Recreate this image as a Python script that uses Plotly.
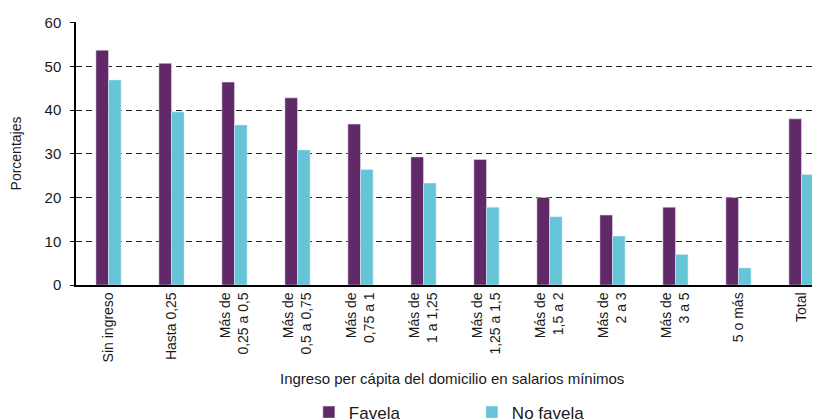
import plotly.graph_objects as go

# ingreso per cápita del domicilio (salarios mínimos)
categorias = ["Sin ingreso", "Hasta 0,25", "Más de<br>0,25 a 0,5", "Más de<br>0,5 a 0,75",
              "Más de<br>0,75 a 1", "Más de<br>1 a 1,25", "Más de<br>1,25 a 1,5",
              "Más de<br>1,5 a 2", "Más de<br>2 a 3", "Más de<br>3 a 5", "5 o más", "Total"]
favela = [53.7, 50.7, 46.4, 42.8, 36.8, 29.3, 28.7, 20.0, 16.0, 17.8, 20.0, 38.0]
no_favela = [46.9, 39.6, 36.6, 30.9, 26.4, 23.3, 17.8, 15.6, 11.2, 7.0, 3.9, 25.3]
y_ticks = [0, 10, 20, 30, 40, 50, 60]

FONT = "Arial, Liberation Sans, sans-serif"

fig = go.Figure()
fig.add_trace(go.Bar(x=categorias, y=favela, name="Favela", marker_color="#612968"))
fig.add_trace(go.Bar(x=categorias, y=no_favela, name="No favela", marker_color="#65C4D6"))

# the page body adds an 8px margin, so the figure is 8px smaller than the window
fig.update_layout(
    width=812, height=411,
    margin=dict(l=68, r=0, t=14, b=134, autoexpand=False),
    paper_bgcolor="white", plot_bgcolor="white",
    font=dict(family=FONT, size=14, color="#1a1a1a"),
    barmode="group", bargap=0.6, bargroupgap=0,
    showlegend=True,
    legend=dict(orientation="h", x=0.313, xanchor="left", y=-0.485, yanchor="middle",
                font=dict(size=17), entrywidth=118, entrywidthmode="pixels",
                itemwidth=30, bgcolor="rgba(0,0,0,0)"),
)

fig.update_xaxes(
    range=[-0.516, 11.294], tickangle=-90, tickfont=dict(size=14),
    showline=True, linecolor="black", linewidth=1.5, ticks="",
    showgrid=False, fixedrange=True, automargin=False,
)
fig.update_yaxes(
    range=[0, 60.15], tickvals=y_ticks, tickfont=dict(size=15),
    showline=True, linecolor="black", linewidth=1.5,
    ticks="outside", ticklen=4, tickcolor="black", ticklabelstandoff=6,
    showgrid=True, gridcolor="#222", griddash="6px,4px", gridwidth=1,
    zeroline=False, automargin=False,
    title=dict(text="Porcentajes", font=dict(size=14), standoff=24),
)

fig.add_annotation(text="Ingreso per cápita del domicilio en salarios mínimos",
                   xref="paper", yref="paper", x=0.505, y=-0.357,
                   showarrow=False, font=dict(size=15), xanchor="center", yanchor="middle")

fig.write_html("out.html")
